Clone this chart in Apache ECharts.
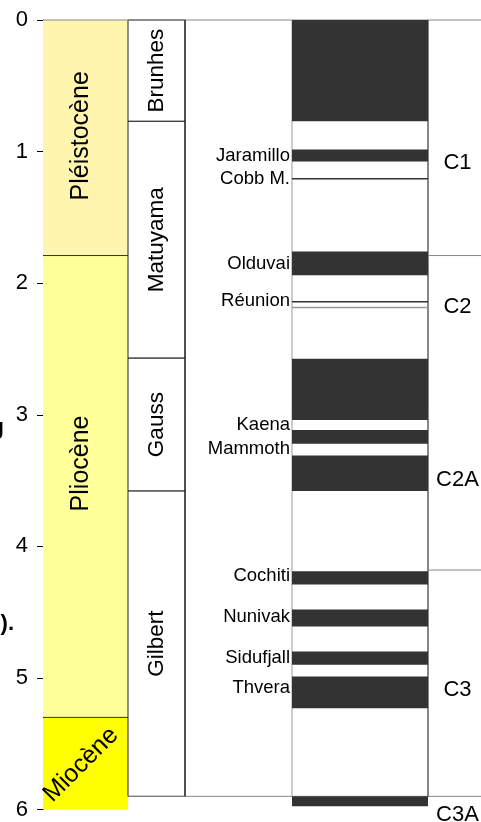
<!DOCTYPE html>
<html>
<head>
<meta charset="utf-8">
<title>Échelle de polarité magnétique</title>
<script src="https://cdn.jsdelivr.net/npm/echarts@6/dist/echarts.min.js"></script>
<style>
  html, body { margin: 0; padding: 0; background: #fff; }
  #chart { width: 481px; height: 822px; }
</style>
</head>
<body>
<div id="chart"></div>
<script>
// époques (Ma)
const epochNames = ['Pléistocène', 'Pliocène', 'Miocène'];
const epochStart = [0, 1.79, 5.3];
const epochEnd = [1.79, 5.3, 6];
const epochLabelAge = [0.88, 3.37, 5.66];

// chrons de polarité
const chronNames = ['Brunhes', 'Matuyama', 'Gauss', 'Gilbert'];
const chronStart = [0, 0.77, 2.57, 3.58];
const chronEnd = [0.77, 2.57, 3.58, 5.9];

// intervalles de polarité normale (noir)
const normalStart = [0, 0.985, 1.76, 2.575, 3.115, 3.31, 4.19, 4.48, 4.8, 4.99, 5.9];
const normalEnd = [0.77, 1.075, 1.94, 3.04, 3.22, 3.58, 4.29, 4.61, 4.9, 5.23, 5.975];

// événements très courts (traits)
const thinAges = [1.206, 2.142, 2.185];

// noms des événements
const eventNames = ['Jaramillo', 'Cobb M.', 'Olduvai', 'Réunion', 'Kaena', 'Mammoth',
  'Cochiti', 'Nunivak', 'Sidufjall', 'Thvera'];
const eventAges = [1.03, 1.205, 1.855, 2.134, 3.078, 3.26, 4.226, 4.536, 4.848, 5.079];

// chrons C
const cNames = ['C1', 'C2', 'C2A', 'C3', 'C3A'];
const cLabelAges = [1.087, 2.178, 3.496, 5.094, 6.045];
const cBoundaries = [1.79, 4.18];

// mise en page / styles
const FONT = 'Arial, "Liberation Sans", sans-serif';
const COL = { epoch: [0, 85], chron: [85, 142], label: [142, 249], pol: [249, 385], c: [385, 438] };
const epochColors = ['#fff5ae', '#ffff99', '#ffff00'];
const thinColors = ['#333', '#333', '#999'];
const EPOCH_TEXT_X = 38;
const EVENT_TEXT_X = 247;
const C_TEXT_X = 414.5;

const chart = echarts.init(document.getElementById('chart'));

function rectBetween(api, x0, x1, a0, a1) {
  const p0 = api.coord([x0, a0]);
  const p1 = api.coord([x1, a1]);
  return { x: p0[0], y: p0[1], width: p1[0] - p0[0], height: p1[1] - p0[1] };
}

function hLine(api, x0, x1, age, color, w) {
  const p0 = api.coord([x0, age]);
  const p1 = api.coord([x1, age]);
  return { type: 'line', shape: { x1: p0[0], y1: p0[1], x2: p1[0], y2: p1[1] },
    style: { stroke: color, lineWidth: w || 1 } };
}

const option = {
  animation: false,
  grid: { left: 43, right: 0, top: 20, bottom: 12.5 },
  xAxis: { type: 'value', min: 0, max: 438, show: false },
  yAxis: {
    type: 'value',
    inverse: true,
    min: 0,
    max: 6,
    interval: 1,
    splitLine: { show: false },
    axisLine: { show: true, lineStyle: { color: '#000', width: 1 } },
    axisTick: { show: true, length: 6, lineStyle: { color: '#000' } },
    axisLabel: { color: '#000', fontSize: 22, fontFamily: FONT, margin: 15 }
  },
  graphic: [
    { type: 'text', x: 4, y: 428, style: { text: 'g', font: 'bold 22px ' + FONT, fill: '#000', align: 'right', verticalAlign: 'middle' } },
    { type: 'text', x: 14, y: 624, style: { text: ').', font: 'bold 22px ' + FONT, fill: '#000', align: 'right', verticalAlign: 'middle' } }
  ],
  series: [
    {
      // époques
      type: 'custom',
      data: epochNames.map((n, i) => [epochStart[i], epochEnd[i], epochLabelAge[i]]),
      renderItem: (params, api) => {
        const i = params.dataIndex;
        const s = api.value(0), e = api.value(1);
        const r = rectBetween(api, COL.epoch[0], COL.epoch[1], s, e);
        const c = api.coord([EPOCH_TEXT_X, api.value(2)]);
        const children = [{ type: 'rect', shape: r, style: { fill: epochColors[i] } }];
        if (s > 0) children.push(hLine(api, COL.epoch[0], COL.epoch[1], s, '#333'));
        children.push({
          type: 'text', x: c[0], y: c[1],
          rotation: i === 2 ? Math.PI / 4 : Math.PI / 2,
          style: { text: epochNames[i], fill: '#000', font: '25px ' + FONT, align: 'center', verticalAlign: 'middle' }
        });
        return { type: 'group', children };
      }
    },
    {
      // chrons
      type: 'custom',
      data: chronNames.map((n, i) => [chronStart[i], chronEnd[i]]),
      renderItem: (params, api) => {
        const i = params.dataIndex;
        const s = api.value(0), e = api.value(1);
        const r = rectBetween(api, COL.chron[0], COL.chron[1], s, e);
        const c = api.coord([(COL.chron[0] + COL.chron[1]) / 2, (s + e) / 2]);
        return { type: 'group', children: [
          { type: 'rect', shape: r, style: { fill: '#fff', stroke: '#222', lineWidth: 1 } },
          { type: 'text', x: c[0], y: c[1], rotation: Math.PI / 2,
            style: { text: chronNames[i], fill: '#000', font: '22.5px ' + FONT, align: 'center', verticalAlign: 'middle' } }
        ] };
      }
    },
    {
      // cadre
      type: 'custom',
      data: [[0, chronEnd[chronEnd.length - 1]]],
      renderItem: (params, api) => {
        const a0 = api.value(0), a1 = api.value(1);
        const top = api.coord([0, a0])[1];
        const bot = api.coord([0, a1])[1];
        const x = v => api.coord([v, a0])[0];
        return { type: 'group', children: [
          hLine(api, COL.epoch[0], COL.c[1], a0, '#888'),
          hLine(api, COL.chron[0], COL.c[1], a1, '#888'),
          { type: 'line', shape: { x1: x(COL.label[0]), y1: top, x2: x(COL.label[0]), y2: bot }, style: { stroke: '#111', lineWidth: 1 } },
          { type: 'line', shape: { x1: x(COL.pol[0]), y1: top, x2: x(COL.pol[0]), y2: bot }, style: { stroke: '#999', lineWidth: 1 } },
          { type: 'line', shape: { x1: x(COL.pol[1]), y1: top, x2: x(COL.pol[1]), y2: bot }, style: { stroke: '#111', lineWidth: 1 } }
        ] };
      }
    },
    {
      // polarité normale
      type: 'custom',
      data: normalStart.map((s, i) => [s, normalEnd[i]]),
      renderItem: (params, api) => ({
        type: 'rect',
        shape: rectBetween(api, COL.pol[0], COL.pol[1], api.value(0), api.value(1)),
        style: { fill: '#333' }
      })
    },
    {
      // événements courts
      type: 'custom',
      data: thinAges.map(a => [a]),
      renderItem: (params, api) => hLine(api, COL.pol[0], COL.pol[1], api.value(0), thinColors[params.dataIndex], 1.5)
    },
    {
      // noms des événements
      type: 'custom',
      data: eventNames.map((n, i) => [eventAges[i]]),
      renderItem: (params, api) => {
        const c = api.coord([EVENT_TEXT_X, api.value(0)]);
        return { type: 'text', x: c[0], y: c[1],
          style: { text: eventNames[params.dataIndex], fill: '#000', font: '18.5px ' + FONT, align: 'right', verticalAlign: 'middle' } };
      }
    },
    {
      // limites des chrons C
      type: 'custom',
      data: cBoundaries.map(a => [a]),
      renderItem: (params, api) => hLine(api, COL.c[0], COL.c[1], api.value(0), '#888')
    },
    {
      // noms des chrons C
      type: 'custom',
      clip: false,
      data: cNames.map((n, i) => [cLabelAges[i]]),
      renderItem: (params, api) => {
        const c = api.coord([C_TEXT_X, api.value(0)]);
        return { type: 'text', x: c[0], y: c[1],
          style: { text: cNames[params.dataIndex], fill: '#000', font: '22px ' + FONT, align: 'center', verticalAlign: 'middle' } };
      }
    }
  ]
};

chart.setOption(option);
</script>
</body>
</html>
